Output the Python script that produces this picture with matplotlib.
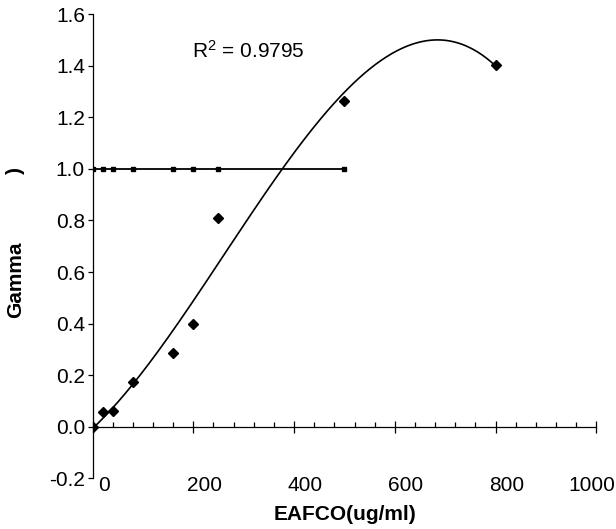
import numpy as np
import matplotlib.pyplot as plt
import matplotlib.transforms as mtransforms
from matplotlib.ticker import MultipleLocator

plt.rcParams["font.family"] = ["Liberation Sans", "DejaVu Sans"]
plt.rcParams["mathtext.fontset"] = "custom"
plt.rcParams["mathtext.rm"] = "Liberation Sans"
plt.rcParams["mathtext.it"] = "Liberation Sans:italic"

# date
conc = [0, 20, 40, 80, 160, 200, 250, 500, 800]
gamma = [0.0, 0.055, 0.062, 0.172, 0.285, 0.40, 0.81, 1.265, 1.405]
ctrl_conc = [0, 20, 40, 80, 160, 200, 250, 500]
ctrl_val = [1.0] * len(ctrl_conc)
xticks = [0, 200, 400, 600, 800, 1000]
r2_text = "R$^2$ = 0.9795"

# trendline polinomial de ordin 3 (ca in Excel)
coef = np.polyfit(conc, gamma, 3)
xs = np.linspace(min(conc), max(conc), 300)
ys = np.polyval(coef, xs)

fig = plt.figure(figsize=(6.16, 5.29), dpi=100)
ax = fig.add_axes([0.1502, 0.0964, 0.818, 0.8762])

ax.plot(ctrl_conc, ctrl_val, color="black", lw=1.3, marker="s", ms=3.2, zorder=3)
ax.plot(xs, ys, color="black", lw=1.2, zorder=2)
ax.plot(conc, gamma, ls="none", marker="D", ms=5.5, color="black", zorder=4)

ax.set_xlim(0, 1000)
ax.set_ylim(-0.2, 1.6)
ax.set_yticks(np.arange(-0.2, 1.61, 0.2))
ax.set_yticklabels(["%.1f" % v for v in np.arange(-0.2, 1.61, 0.2)], fontsize=15)

ax.spines["top"].set_visible(False)
ax.spines["right"].set_visible(False)
ax.spines["bottom"].set_position(("data", 0))
ax.spines["left"].set_linewidth(0.9)
ax.spines["bottom"].set_linewidth(0.9)

ax.set_xticks(xticks)
ax.xaxis.set_minor_locator(MultipleLocator(40))
ax.tick_params(axis="x", which="major", direction="inout", length=8.5, width=0.9, labelbottom=False)
ax.tick_params(axis="x", which="minor", direction="in", length=3.5, width=0.9)
ax.tick_params(axis="y", which="major", direction="out", length=3.5, width=0.9, pad=2)

# etichetele axei x stau jos, la nivelul -0.2
for i, t in enumerate(xticks):
    if i == len(xticks) - 1:
        off = mtransforms.offset_copy(ax.transData, fig=fig, x=19, y=2, units="dots")
        ax.text(t, -0.2, str(t), ha="right", va="top", fontsize=15, transform=off, clip_on=False)
    else:
        off = mtransforms.offset_copy(ax.transData, fig=fig, x=11, y=2, units="dots")
        ax.text(t, -0.2, str(t), ha="center", va="top", fontsize=15, transform=off, clip_on=False)

ax.text(310, 1.46, r2_text, ha="center", va="center", fontsize=15)

fig.text(345 / 616, 1 - 514 / 529, "EAFCO(ug/ml)", ha="center", va="center",
         fontsize=15, fontweight="bold")
fig.text(16 / 616, 1 - 280 / 529, "Gamma", rotation=90, ha="center", va="center",
         fontsize=15, fontweight="bold")
fig.text(15 / 616, 1 - 171 / 529, ")", rotation=90, ha="center", va="center",
         fontsize=15, fontweight="bold")

fig.savefig("out.png", dpi=100)
